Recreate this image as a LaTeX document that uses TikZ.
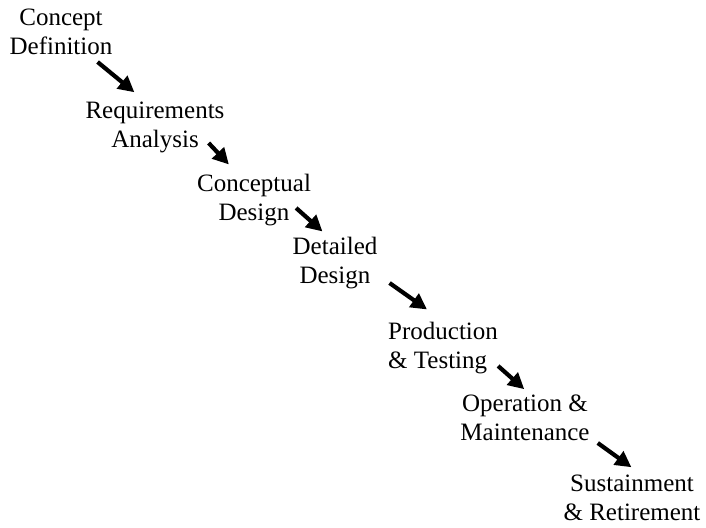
\documentclass[tikz,border=0pt]{standalone}
\usepackage{fontspec}
\setmainfont{Liberation Serif}
\usepackage{tikz}
\usetikzlibrary{positioning,arrows.meta,calc}

\begin{document}
\begin{tikzpicture}[
    x=1pt,y=1pt,
    phase/.style={inner sep=0pt,align=center,anchor=base,font=\fontsize{25}{29}\selectfont},
    arrow/.style={-{Triangle[length=16pt,width=16pt]},line width=4.2pt,color=black}
  ]
    \useasboundingbox (0,0) rectangle (706,-527);
    \node[phase] (concept) at (61,-55) {Concept\\Definition};
    \node[phase] (req) at (155,-147) {Requirements\\Analysis};
    \node[phase] (cdesign) at (254,-220) {Conceptual\\Design};
    \node[phase] (ddesign) at (335,-283) {Detailed\\Design};
    \node[phase,align=left,anchor=base west] (prod) at (388,-368) {Production\\\& Testing};
    \node[phase] (oper) at (525,-440) {Operation \&\\Maintenance};
    \node[phase] (sust) at (632,-520) {Sustainment\\\& Retirement};
    % flow between phases
    \draw[arrow] ($(concept.base east)+(-15,-7)$) -- ($(req.north west)+(49,9)$);
    \draw[arrow] ($(req.base east)+(-16,4)$) -- ($(cdesign.north west)+(32,9)$);
    \draw[arrow] ($(cdesign.base east)+(-15,12)$) -- ($(ddesign.north west)+(30,5)$);
    \draw[arrow] ($(ddesign.base east)+(12,0)$) -- ($(prod.north west)+(39,12)$);
    \draw[arrow] ($(prod.base east)+(0,2)$) -- ($(oper.north west)+(64,5)$);
    \draw[arrow] ($(oper.base east)+(8,-3)$) -- ($(sust.north west)+(68,7)$);
  \end{tikzpicture}
\end{document}
